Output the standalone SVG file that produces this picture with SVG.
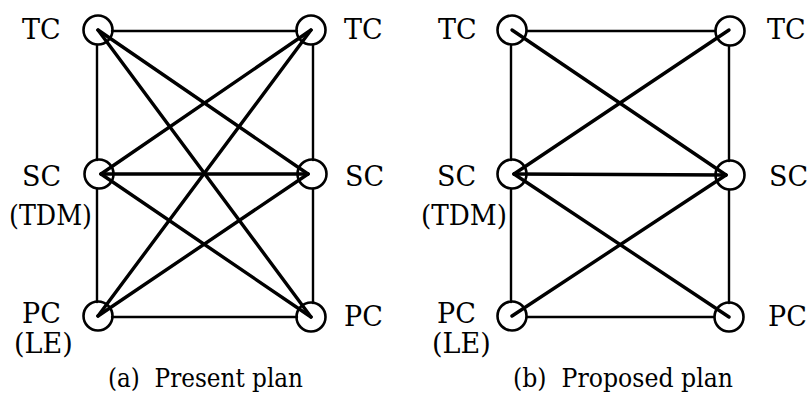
<svg xmlns="http://www.w3.org/2000/svg" width="809" height="395" viewBox="0 0 809 395">
<style>
.node circle{fill:none;stroke:#000;stroke-width:2.6}
.frame{stroke:#000;stroke-width:2.4;fill:none;stroke-linecap:round}
.diag{stroke:#000;stroke-width:3.4;fill:none;stroke-linecap:round}
</style>
<rect width="809" height="395" fill="#fff"/>
<g id="connectors">
  <line class="frame" x1="112" y1="31" x2="297" y2="31"/>
  <line class="frame" x1="97" y1="45" x2="97" y2="160"/>
  <line class="frame" x1="97" y1="189" x2="97" y2="302"/>
  <line class="frame" x1="313" y1="45" x2="313" y2="160"/>
  <line class="frame" x1="313" y1="189" x2="313" y2="303"/>
  <line class="frame" x1="112" y1="317" x2="297" y2="317"/>
  <line class="diag" x1="98" y1="30" x2="308" y2="174"/>
  <line class="diag" x1="98" y1="30" x2="311" y2="317"/>
  <line class="diag" x1="311" y1="30" x2="101" y2="174"/>
  <line class="diag" x1="311" y1="30" x2="98" y2="316"/>
  <line class="diag" x1="101" y1="174" x2="308" y2="174"/>
  <line class="diag" x1="101" y1="174" x2="311" y2="317"/>
  <line class="diag" x1="308" y1="174" x2="98" y2="316"/>
  <line class="frame" x1="527" y1="31" x2="715" y2="31"/>
  <line class="frame" x1="511" y1="45" x2="511" y2="160"/>
  <line class="frame" x1="511" y1="189" x2="511" y2="302"/>
  <line class="frame" x1="729" y1="46" x2="729" y2="161"/>
  <line class="frame" x1="729" y1="190" x2="729" y2="303"/>
  <line class="frame" x1="527" y1="317" x2="714" y2="317"/>
  <line class="diag" x1="512" y1="30" x2="726" y2="175"/>
  <line class="diag" x1="729" y1="30" x2="514" y2="174"/>
  <line class="diag" x1="514" y1="174" x2="726" y2="175"/>
  <line class="diag" x1="514" y1="174" x2="729" y2="317"/>
  <line class="diag" x1="726" y1="175" x2="512" y2="316"/>
</g>
<g font-family="DejaVu Serif, Liberation Serif, serif" font-size="27" fill="#000">
<g id="a-tc-left" class="node"><circle cx="98" cy="30" r="14.5"/><text x="22" y="39">TC</text></g>
<g id="a-tc-right" class="node"><circle cx="311" cy="30" r="14.5"/><text x="344" y="39">TC</text></g>
<g id="a-sc-left" class="node"><circle cx="99" cy="174" r="14.5"/><text x="22" y="186">SC</text><text x="9" y="225" textLength="83" lengthAdjust="spacingAndGlyphs">(TDM)</text></g>
<g id="a-sc-right" class="node"><circle cx="312" cy="174" r="14.5"/><text x="345" y="186">SC</text></g>
<g id="a-pc-left" class="node"><circle cx="98" cy="316" r="14.5"/><text x="22" y="323">PC</text><text x="14" y="353">(LE)</text></g>
<g id="a-pc-right" class="node"><circle cx="311" cy="317" r="14.5"/><text x="344" y="326">PC</text></g>
<g id="b-tc-left" class="node"><circle cx="512" cy="30" r="14.5"/><text x="438" y="39">TC</text></g>
<g id="b-tc-right" class="node"><circle cx="730" cy="31" r="14.5"/><text x="767" y="39">TC</text></g>
<g id="b-sc-left" class="node"><circle cx="512" cy="174" r="14.5"/><text x="437" y="186">SC</text><text x="421" y="225" textLength="86" lengthAdjust="spacingAndGlyphs">(TDM)</text></g>
<g id="b-sc-right" class="node"><circle cx="730" cy="175" r="14.5"/><text x="769" y="186">SC</text></g>
<g id="b-pc-left" class="node"><circle cx="512" cy="316" r="14.5"/><text x="437" y="323">PC</text><text x="432" y="353">(LE)</text></g>
<g id="b-pc-right" class="node"><circle cx="729" cy="317" r="14.5"/><text x="768" y="326">PC</text></g>
<text x="108" y="387" font-size="25.5" textLength="195" lengthAdjust="spacingAndGlyphs" xml:space="preserve">(a)  Present plan</text>
<text x="513" y="387" font-size="25.5" textLength="220" lengthAdjust="spacingAndGlyphs" xml:space="preserve">(b)  Proposed plan</text>
</g>
</svg>
